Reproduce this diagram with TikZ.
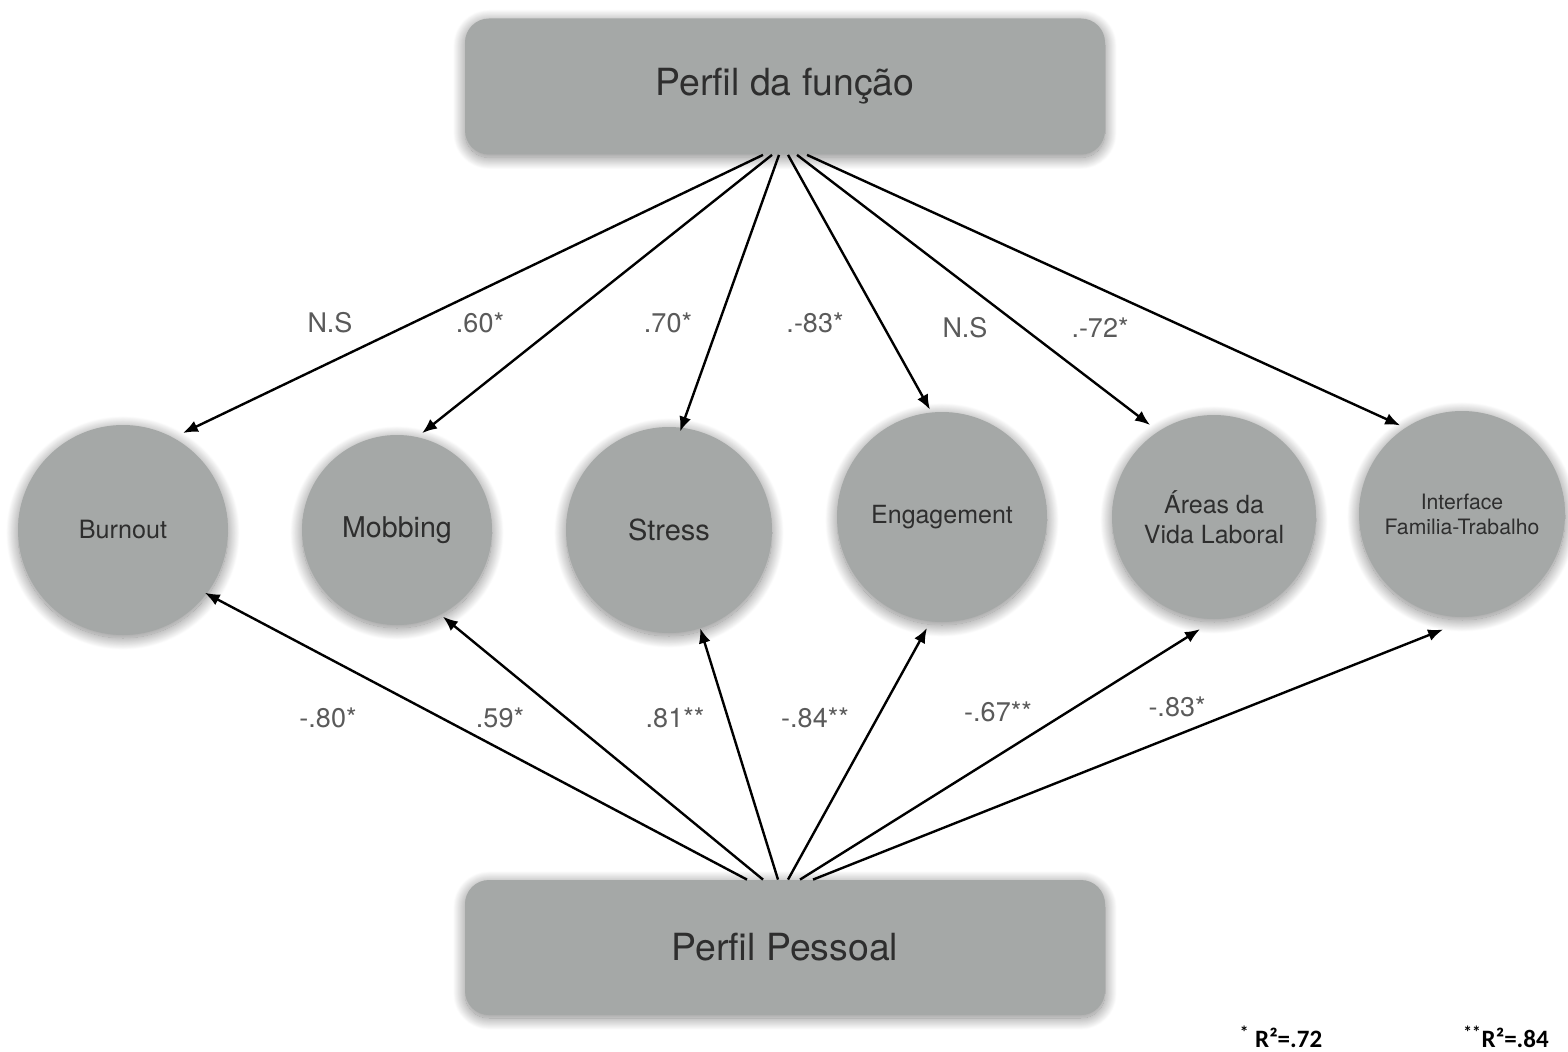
\documentclass[tikz,border=0pt]{standalone}
\usepackage{fontspec}
\setmainfont{TeX Gyre Heros}
\newfontfamily\notefont{Carlito}
\usetikzlibrary{arrows.meta,shadows.blur}
\definecolor{boxgray}{HTML}{A5A8A7}
\definecolor{textgray}{HTML}{2E2E2E}
\definecolor{coefgray}{HTML}{5A5A5A}

\begin{document}
\begin{tikzpicture}[x=0.5pt,y=-0.5pt,
  softshadow/.style={blur shadow={shadow xshift=0pt, shadow yshift=-1.5pt,
      shadow blur radius=6pt, shadow blur steps=30, shadow opacity=50}},
  perfil/.style={fill=boxgray, rounded corners=12pt, minimum width=320pt,
      minimum height=68pt, text=textgray, softshadow,
      font=\fontsize{18.7}{22}\selectfont},
  escala/.style={circle, fill=boxgray, inner sep=0pt, minimum size=#1,
      text=textgray, align=center, softshadow},
  coef/.style={text=coefgray, font=\fontsize{13.5}{16}\selectfont},
  seta/.style={line width=1.2pt, -{Latex[length=7.5pt,width=6pt]}},
  nota/.style={font=\notefont\bfseries\fontsize{12.5}{15}\selectfont}]
\useasboundingbox (0,0) rectangle (1568,1052);

% profiles
\node[perfil] (funcao) at (785,86.5) {Perfil da função};
\node[perfil, minimum height=67.5pt] (pessoal) at (785,947.5) {Perfil Pessoal};

% scales
\node[escala=105pt, font=\fontsize{12.6}{15}\selectfont] (burnout) at (123,530) {Burnout};
\node[escala=95pt, font=\fontsize{14.3}{17}\selectfont] (mobbing) at (397,530) {Mobbing};
\node[escala=103pt, font=\fontsize{14.5}{17}\selectfont] (stress) at (669,530) {Stress};
\node[escala=105pt, font=\fontsize{12.5}{15}\selectfont] (engagement) at (942,517) {Engagement};
\node[escala=102pt, font=\fontsize{12.5}{15}\selectfont] (areas) at (1214,517) {Áreas da\\Vida Laboral};
\node[escala=103pt, font=\fontsize{10.6}{12.5}\selectfont] (interface) at (1462,514) {Interface\\Familia-Trabalho};

% paths from Perfil da funcao
\draw[seta] ([xshift=-11pt]funcao.south) -- ([shift={(58.3:57pt)}]burnout.center);
\draw[seta] ([xshift=-6.5pt]funcao.south) -- ([shift={(75.5:50pt)}]mobbing.center);
\draw[seta] ([xshift=-3pt]funcao.south) -- ([shift={(83.6:49.5pt)}]stress.center);
\draw[seta] ([xshift=1.5pt]funcao.south) -- ([shift={(96.4:54pt)}]engagement.center);
\draw[seta] ([xshift=6pt]funcao.south) -- ([shift={(124.8:56pt)}]areas.center);
\draw[seta] ([xshift=11pt]funcao.south) -- ([shift={(124.9:54pt)}]interface.center);

% paths from Perfil Pessoal
\draw[seta] ([xshift=-19pt]pessoal.north) -- ([shift={(-37.5:51.5pt)}]burnout.center);
\draw[seta] ([xshift=-11pt]pessoal.north) -- ([shift={(-62.1:49pt)}]mobbing.center);
\draw[seta] ([xshift=-3.5pt]pessoal.north) -- ([shift={(-72.4:51.5pt)}]stress.center);
\draw[seta] ([xshift=1.5pt]pessoal.north) -- ([shift={(-97.7:56pt)}]engagement.center);
\draw[seta] ([xshift=7.5pt]pessoal.north) -- ([shift={(-97.1:56.5pt)}]areas.center);
\draw[seta] ([xshift=14pt]pessoal.north) -- ([shift={(-99.3:58.5pt)}]interface.center);

% coefficients
\node[coef] (f-burnout) at (330,323) {N.S};
\node[coef] (f-mobbing) at (480,323) {.60*};
\node[coef] (f-stress) at (668,323) {.70*};
\node[coef] (f-engagement) at (815,323) {.-83*};
\node[coef] (f-areas) at (965,328) {N.S};
\node[coef] (f-interface) at (1100,328) {.-72*};
\node[coef] (p-burnout) at (328,718) {-.80*};
\node[coef] (p-mobbing) at (500,718) {.59*};
\node[coef] (p-stress) at (675,718) {.81**};
\node[coef] (p-engagement) at (815,718) {-.84**};
\node[coef] (p-areas) at (998,712) {-.67**};
\node[coef] (p-interface) at (1177,707) {-.83*};

% notes
\node[nota] (r72) at (1281,1037) {\textsuperscript{*} R²=.72};
\node[nota] (r84) at (1506,1037) {\textsuperscript{**}R²=.84};
\end{tikzpicture}
\end{document}
